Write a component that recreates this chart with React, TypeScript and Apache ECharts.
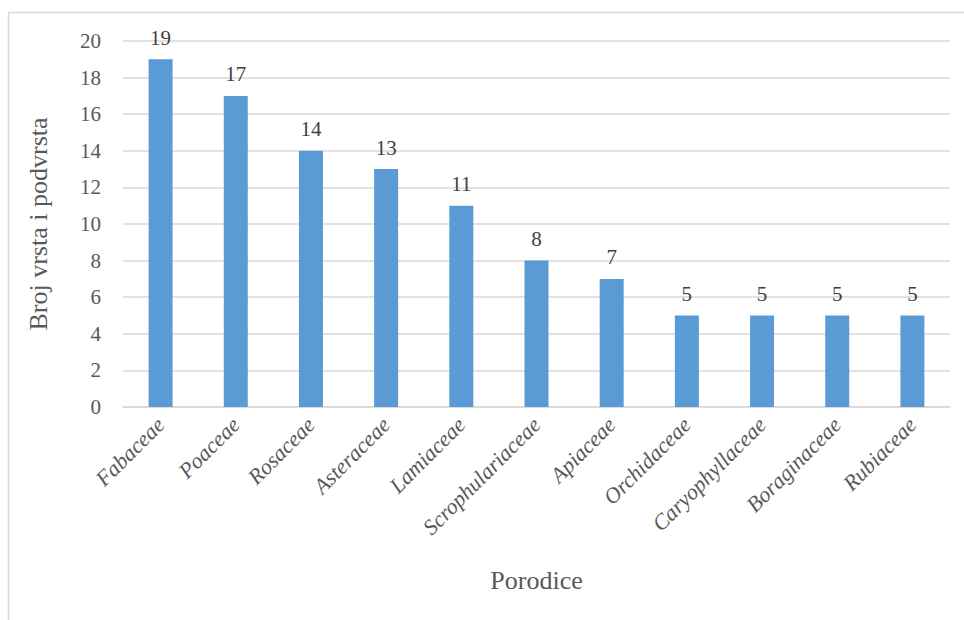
import React, { useEffect, useRef } from "react";
import * as echarts from "echarts";

const categories = [
  "Fabaceae",
  "Poaceae",
  "Rosaceae",
  "Asteraceae",
  "Lamiaceae",
  "Scrophulariaceae",
  "Apiaceae",
  "Orchidaceae",
  "Caryophyllaceae",
  "Boraginaceae",
  "Rubiaceae",
];
const values = [19, 17, 14, 13, 11, 8, 7, 5, 5, 5, 5];
const yAxisTitle = "Broj vrsta i podvrsta";
const xAxisTitle = "Porodice";

const FONT = "'Liberation Serif', 'Times New Roman', serif";

export default function App() {
  const ref = useRef<HTMLDivElement>(null);
  useEffect(() => {
    if (!ref.current) return;
    const chart = echarts.init(ref.current, undefined, { renderer: "svg" });
    chart.setOption({
      animation: false,
      backgroundColor: "#ffffff",
      graphic: [
        {
          type: "rect",
          shape: { x: 8.5, y: 12.5, width: 1000, height: 700 },
          style: { fill: "none", stroke: "#d9d9d9", lineWidth: 1.5 },
          silent: true,
        },
      ],
      grid: { left: 123, right: 14, top: 41, bottom: 213 },
      xAxis: {
        type: "category",
        data: categories,
        axisTick: { show: false },
        axisLine: { lineStyle: { color: "#d9d9d9", width: 1.5 } },
        axisLabel: {
          interval: 0,
          rotate: 45,
          margin: 14,
          color: "#595959",
          fontFamily: FONT,
          fontStyle: "italic",
          fontSize: 22,
        },
        name: xAxisTitle,
        nameLocation: "middle",
        nameGap: 160,
        nameTextStyle: { color: "#595959", fontFamily: FONT, fontSize: 26 },
      },
      yAxis: {
        type: "value",
        min: 0,
        max: 20,
        interval: 2,
        axisLine: { show: false },
        axisTick: { show: false },
        splitLine: { lineStyle: { color: "#d9d9d9", width: 1.5 } },
        axisLabel: {
          margin: 22,
          color: "#595959",
          fontFamily: FONT,
          fontSize: 21,
        },
        name: yAxisTitle,
        nameLocation: "middle",
        nameGap: 72,
        nameTextStyle: { color: "#595959", fontFamily: FONT, fontSize: 26 },
      },
      series: [
        {
          type: "bar",
          data: values,
          barWidth: 24,
          itemStyle: { color: "#5b9bd5" },
          label: {
            show: true,
            position: "top",
            distance: 11,
            color: "#404040",
            fontFamily: FONT,
            fontSize: 21,
          },
        },
      ],
    });
    return () => chart.dispose();
  }, []);
  return (
    <div
      ref={ref}
      style={{ position: "fixed", left: 0, top: 0, width: 964, height: 620 }}
    />
  );
}
